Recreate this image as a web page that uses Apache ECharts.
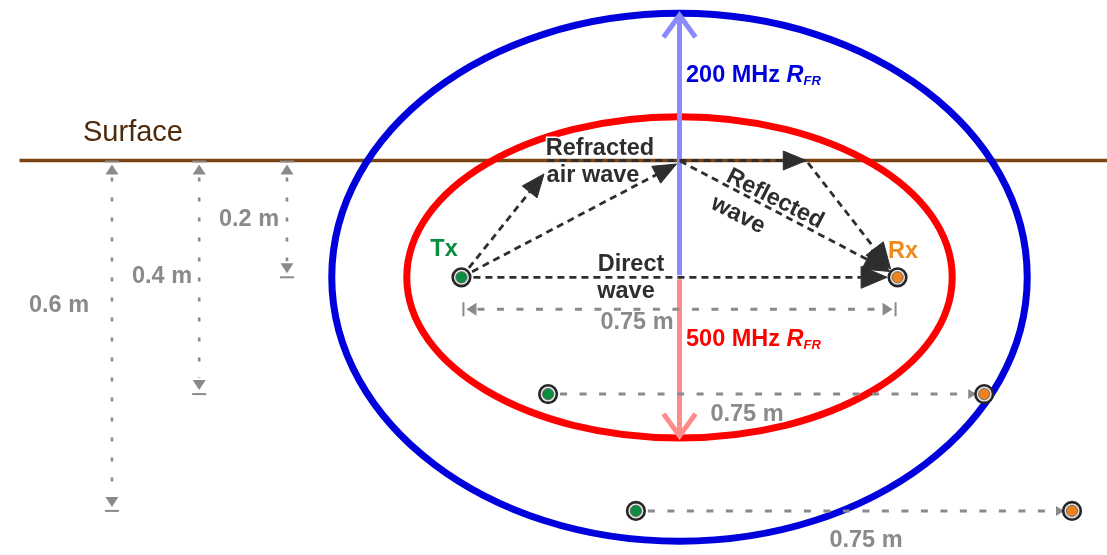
<!DOCTYPE html>
<html><head><meta charset="utf-8">
<script src="https://cdn.jsdelivr.net/npm/echarts@6/dist/echarts.min.js"></script>
<style>html,body{margin:0;padding:0;background:#fff}#c{width:1107px;height:555px}</style>
</head><body><div id="c"></div>
<script>
// ---------------- data (metres: x = 0 at survey midline, y = depth below surface) ----------------
const antennaDepths = [0.2, 0.4, 0.6];
const txPositions   = [-0.375, -0.226, -0.075];
const rxPositions   = [0.375, 0.524, 0.675];
const offsetLabels  = ['0.75 m', '0.75 m', '0.75 m'];
const depthLabels   = ['0.2 m', '0.4 m', '0.6 m'];
const fresnelNames       = ['200 MHz', '500 MHz'];
const fresnelCenterDepth = [0.2, 0.2];
const fresnelRadiusX     = [0.598, 0.469];
const fresnelRadiusY     = [0.452, 0.275];
// ray segments [x0, y0, x1, y1]
const rayRefractedUp   = [-0.375, 0.2, -0.233, 0.023];
const rayToSurface     = [-0.375, 0.2, -0.005, 0.006];
const rayAirWave       = [-0.227, 0, 0.218, 0];
const rayRefractedDown = [0.221, 0.004, 0.363, 0.186];
const rayReflectedDown = [0.001, 0.001, 0.362, 0.19];
const rayDirect        = [-0.375, 0.2, 0.357, 0.2];
const surfaceExtent    = [-1.135, 0.74];

// ---------------- layout ----------------
const W = 1107, H = 555;
const X0 = 679.5, PXX = 581.5, Y0 = 160.5, PXY = 584;
const depthDimX = [-0.675, -0.826, -0.976];
const FONT = '"Liberation Sans", Arial, sans-serif';
const GRAY = '#8a8a8a', DARK = '#2e2e2e';
const fresnelColors = ['#0000dd', '#ff0000'];
const fresnelArrowColors = ['#8a8aff', '#ff8a8a'];

const chart = echarts.init(document.getElementById('c'), null, {renderer: 'canvas'});

function arrowHead(p0, p1, len, hw) {
  const dx = p1[0] - p0[0], dy = p1[1] - p0[1];
  const d = Math.hypot(dx, dy) || 1;
  const ux = dx / d, uy = dy / d;
  const bx = p1[0] - ux * len, by = p1[1] - uy * len;
  return {base: [bx, by], pts: [[p1[0], p1[1]], [bx - uy * hw, by + ux * hw], [bx + uy * hw, by - ux * hw]]};
}

const rays = [rayRefractedUp, rayToSurface, rayAirWave, rayRefractedDown, rayReflectedDown, rayDirect];

const series = [
  { // surface
    type: 'line', silent: true, symbol: 'none', z: 1,
    data: [[surfaceExtent[0], 0], [surfaceExtent[1], 0]],
    lineStyle: {color: '#7a4512', width: 3.5}
  },
  { // Fresnel zone ellipses
    type: 'custom', silent: true, clip: false, z: 2,
    data: fresnelNames.map((n, i) => [0, fresnelCenterDepth[i], fresnelRadiusX[i], fresnelRadiusY[i], i]),
    renderItem: (p, api) => {
      const c = api.coord([api.value(0), api.value(1)]);
      const s = api.size([api.value(2), api.value(3)]);
      return {type: 'ellipse', shape: {cx: c[0], cy: c[1], rx: s[0], ry: s[1]},
        style: {fill: 'none', stroke: fresnelColors[api.value(4)], lineWidth: 7}};
    }
  },
  { // Fresnel radius arrows (200 MHz up, 500 MHz down)
    type: 'custom', silent: true, clip: false, z: 3,
    data: fresnelNames.map((n, i) => [0, fresnelCenterDepth[i], fresnelCenterDepth[i] + (i === 0 ? -fresnelRadiusY[i] : fresnelRadiusY[i]), i]),
    renderItem: (p, api) => {
      const i = api.value(3);
      const a = api.coord([api.value(0), api.value(1)]);
      const b = api.coord([api.value(0), api.value(2)]);
      const dir = b[1] < a[1] ? -1 : 1;
      const start = [a[0], a[1] + dir * 2];
      const col = fresnelArrowColors[i];
      return {type: 'group', children: [
        {type: 'line', shape: {x1: start[0], y1: start[1], x2: b[0], y2: b[1] - dir * 2}, style: {stroke: col, lineWidth: 5}},
        {type: 'polyline', shape: {points: [[b[0] - 16, b[1] - dir * 24], [b[0], b[1] - dir * 2], [b[0] + 16, b[1] - dir * 24]]},
          style: {stroke: col, lineWidth: 5, fill: null}}
      ]};
    }
  },
  { // depth dimension lines
    type: 'custom', silent: true, clip: false, z: 3,
    data: antennaDepths.map((d, i) => [depthDimX[i], 0, d]),
    renderItem: (p, api) => {
      const t = api.coord([api.value(0), api.value(1)]);
      const b = api.coord([api.value(0), api.value(2)]);
      const x = t[0];
      return {type: 'group', children: [
        {type: 'line', shape: {x1: x, y1: t[1] + 17, x2: x, y2: b[1] - 16}, style: {stroke: GRAY, lineWidth: 2.6, lineDash: [4, 16]}},
        {type: 'line', shape: {x1: x - 7, y1: t[1] + 1, x2: x + 7, y2: t[1] + 1}, style: {stroke: GRAY, lineWidth: 2}},
        {type: 'polygon', shape: {points: [[x, t[1] + 4], [x - 6.5, t[1] + 14], [x + 6.5, t[1] + 14]]}, style: {fill: GRAY}},
        {type: 'line', shape: {x1: x - 7, y1: b[1], x2: x + 7, y2: b[1]}, style: {stroke: GRAY, lineWidth: 2}},
        {type: 'polygon', shape: {points: [[x, b[1] - 4], [x - 6.5, b[1] - 14], [x + 6.5, b[1] - 14]]}, style: {fill: GRAY}}
      ]};
    }
  },
  { // offset dimension lines
    type: 'custom', silent: true, clip: false, z: 3,
    data: antennaDepths.map((d, i) => [txPositions[i], rxPositions[i], d, i]),
    renderItem: (p, api) => {
      const i = api.value(3);
      const a = api.coord([api.value(0), api.value(2)]);
      const b = api.coord([api.value(1), api.value(2)]);
      if (i === 0) {
        const y = a[1] + 32;
        return {type: 'group', children: [
          {type: 'line', shape: {x1: a[0] + 16, y1: y, x2: b[0] - 16, y2: y}, style: {stroke: GRAY, lineWidth: 3, lineDash: [7, 12.5]}},
          {type: 'line', shape: {x1: a[0] + 2, y1: y - 7, x2: a[0] + 2, y2: y + 7}, style: {stroke: GRAY, lineWidth: 2}},
          {type: 'polygon', shape: {points: [[a[0] + 5, y], [a[0] + 15, y - 6.5], [a[0] + 15, y + 6.5]]}, style: {fill: GRAY}},
          {type: 'line', shape: {x1: b[0] - 2, y1: y - 7, x2: b[0] - 2, y2: y + 7}, style: {stroke: GRAY, lineWidth: 2}},
          {type: 'polygon', shape: {points: [[b[0] - 5, y], [b[0] - 15, y - 6.5], [b[0] - 15, y + 6.5]]}, style: {fill: GRAY}}
        ]};
      }
      return {type: 'group', children: [
        {type: 'line', shape: {x1: a[0] + 12, y1: a[1], x2: b[0] - 10, y2: b[1]}, style: {stroke: GRAY, lineWidth: 3, lineDash: [7, 12.5]}},
        {type: 'polygon', shape: {points: [[b[0] - 8, b[1]], [b[0] - 16, b[1] - 5], [b[0] - 16, b[1] + 5]]}, style: {fill: GRAY}}
      ]};
    }
  },
  { // wave rays
    type: 'custom', silent: true, clip: false, z: 4,
    data: rays,
    renderItem: (p, api) => {
      const a = api.coord([api.value(0), api.value(1)]);
      const b = api.coord([api.value(2), api.value(3)]);
      const big = b[0] > X0 + 150 && b[1] > Y0 + 80;
      const h = arrowHead(a, b, big ? 26 : 23, big ? 11 : 9.5);
      return {type: 'group', children: [
        {type: 'line', shape: {x1: a[0], y1: a[1], x2: h.base[0], y2: h.base[1]}, style: {stroke: DARK, lineWidth: 2.8, lineDash: [7, 5]}},
        {type: 'polygon', shape: {points: h.pts}, style: {fill: DARK, stroke: DARK, lineWidth: 1, lineJoin: 'round'}}
      ]};
    }
  },
  { // antennas
    type: 'custom', silent: true, clip: false, z: 5,
    data: antennaDepths.flatMap((d, i) => [[txPositions[i], d, 0], [rxPositions[i], d, 1]]),
    renderItem: (p, api) => {
      const c = api.coord([api.value(0), api.value(1)]);
      const col = api.value(2) === 0 ? '#0a8d3e' : '#f0821e';
      return {type: 'group', children: [
        {type: 'circle', shape: {cx: c[0], cy: c[1], r: 8.8}, style: {fill: '#e6e6e6', stroke: '#262626', lineWidth: 2.6}},
        {type: 'circle', shape: {cx: c[0], cy: c[1], r: 5.6}, style: {fill: col, stroke: '#5a5a5a', lineWidth: 0.8}}
      ]};
    }
  }
];

// ---------------- text annotations ----------------
function txt(text, x, y, opt) {
  opt = opt || {};
  const style = Object.assign({
    text: text, fill: opt.fill || DARK,
    font: opt.font || ('bold 23.5px ' + FONT),
    align: opt.align || 'center', verticalAlign: 'middle',
    textAlign: opt.align || 'center', textVerticalAlign: 'middle'
  }, opt.halo ? {stroke: '#fff', lineWidth: 3} : {}, opt.rich ? {rich: opt.rich} : {});
  return {type: 'text', x: x, y: y, z: 100, rotation: opt.rot || 0, style: style, silent: true};
}
const graphics = [
  txt('Surface', 133, 133, {font: '29px ' + FONT, fill: '#4e2a0c', stroke: null}),
  txt(depthLabels[0], 249, 220, {fill: GRAY}),
  txt(depthLabels[1], 162, 277, {fill: GRAY}),
  txt(depthLabels[2], 59, 306, {fill: GRAY}),
  txt(offsetLabels[0], 637, 323, {fill: GRAY}),
  txt(offsetLabels[1], 747, 415, {fill: GRAY}),
  txt(offsetLabels[2], 866, 541, {fill: GRAY}),
  txt('Tx', 444, 250, {fill: '#0a8d3e'}),
  txt('Rx', 903, 252, {fill: '#f08a1e'}),
  txt('Refracted', 600, 149, {halo: true}),
  txt('air wave', 593, 176, {halo: true}),
  txt('Direct', 631, 265, {halo: true}),
  txt('wave', 626, 292, {halo: true}),
  txt('Reflected', 775, 199, {halo: true, rot: -27 * Math.PI / 180}),
  txt('wave', 738, 215, {halo: true, rot: -27 * Math.PI / 180}),
  txt(fresnelNames[0] + ' {r|R}{s|FR}', 686, 76, {fill: '#0000dd', align: 'left',
    rich: {r: {font: 'italic bold 23.5px ' + FONT, fill: '#0000dd'}, s: {font: 'italic bold 13px ' + FONT, fill: '#0000dd', padding: [10, 0, 0, 0]}}}),
  txt(fresnelNames[1] + ' {r|R}{s|FR}', 686, 340, {fill: '#ff0000', align: 'left',
    rich: {r: {font: 'italic bold 23.5px ' + FONT, fill: '#ff0000'}, s: {font: 'italic bold 13px ' + FONT, fill: '#ff0000', padding: [10, 0, 0, 0]}}})
];

chart.setOption({
  animation: false,
  backgroundColor: '#fff',
  grid: {left: 0, right: 0, top: 0, bottom: 0, containLabel: false},
  xAxis: {type: 'value', min: -X0 / PXX, max: (W - X0) / PXX, show: false},
  yAxis: {type: 'value', inverse: true, min: -Y0 / PXY, max: (H - Y0) / PXY, show: false},
  series: series,
  graphic: graphics
});
</script></body></html>
